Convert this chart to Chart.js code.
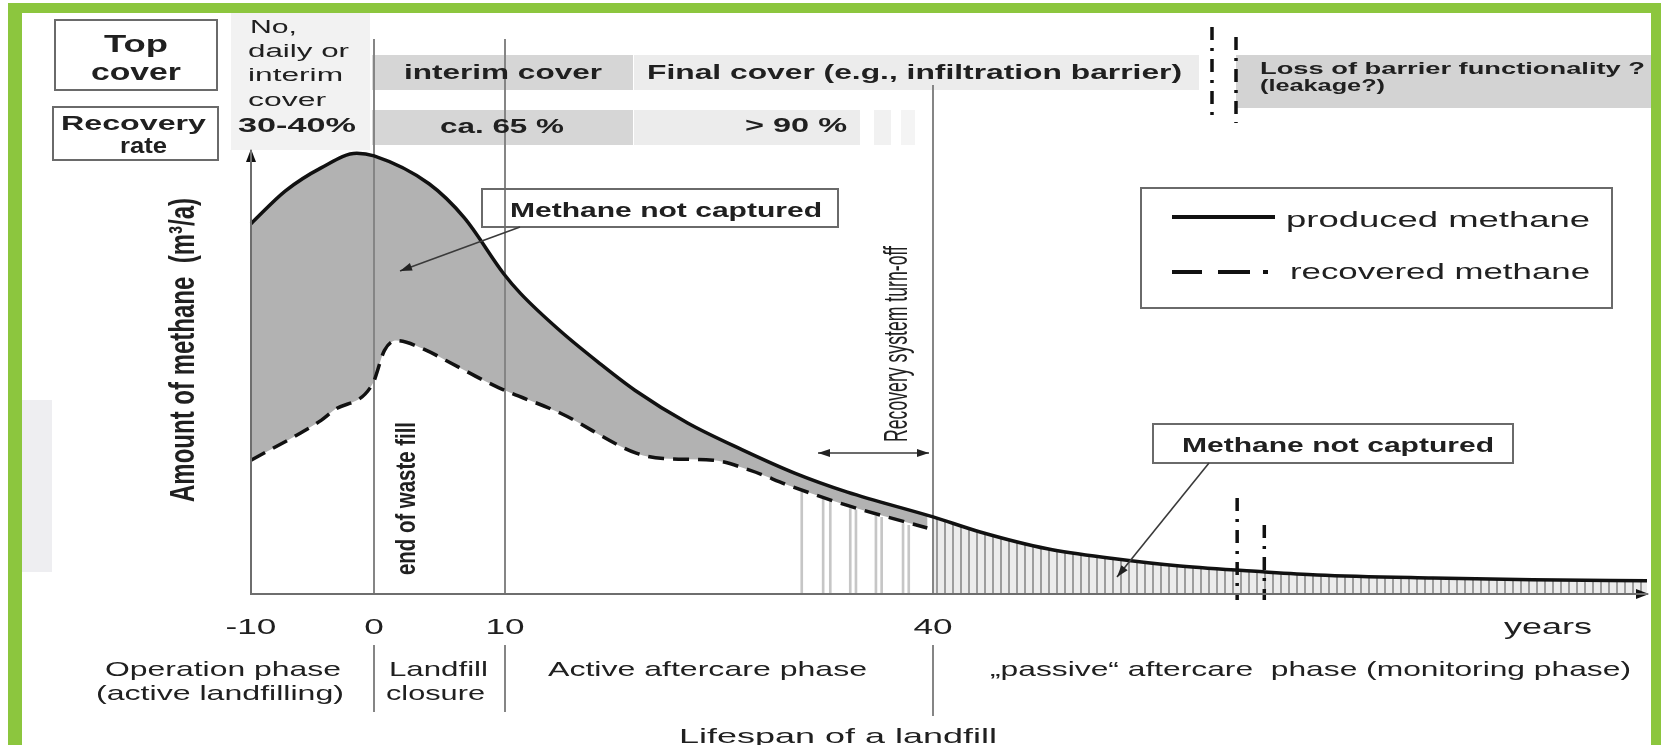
<!DOCTYPE html>
<html>
<head>
<meta charset="utf-8">
<title>Lifespan of a landfill</title>
<script src="https://cdn.jsdelivr.net/npm/chart.js@4.4.1/dist/chart.umd.min.js"></script>
<style>
  html, body { margin: 0; padding: 0; background: #fff; }
  #wrap { width: 1661px; height: 745px; position: relative; }
</style>
</head>
<body>
<div id="wrap"><canvas id="myChart"></canvas></div>
<script>
/* Data: years (relative to end of waste fill) / amount of methane (relative units) */
const producedYears  = [-10, -7.2, -4.3, -1.4, 0, 4.2, 6.9, 9.9, 11.1, 13.9, 16.5, 19.1, 22.8, 26.6, 30.3, 34, 40, 43.3, 48, 52.6, 57.3, 63.1, 66.9, 75, 82, 90];
const producedValues = [83.6, 91.0, 96.2, 99.5, 98.9, 92.6, 84.9, 72.3, 67.8, 59.3, 52.4, 46.0, 38.6, 32.6, 27.3, 23.0, 17.4, 14.0, 10.2, 8.0, 6.3, 5.0, 4.3, 3.6, 3.2, 3.0];

const recoveredYears  = [-10, -6, -4.3, -3.3, -0.1, 0.8, 1.7, 4, 5.5, 9.5, 13.9, 19.2, 21.1, 24.6, 27.2, 29.9, 34, 39.6];
const recoveredValues = [30.2, 36.3, 39.2, 41.4, 47.5, 55.0, 57.2, 55.0, 52.7, 46.6, 40.8, 31.8, 30.6, 30.2, 27.9, 24.5, 20.0, 14.9];

// partial recovery while the system is being turned off
const sparseYears  = [30.8, 32.3, 32.8, 34.2, 34.6, 36.0, 36.4, 37.9, 38.3];
const sparseValues = [23, 21.5, 21, 19.3, 19, 17.6, 17.3, 15.9, 15.5];

const tickYears  = [-10, 0, 10, 40];
const tickLabels = ['-10', '0', '10', '40'];
const phaseYears = [0, 10, 40];
const barrierYears = [61.3, 63.2];

/* Schematic time axis: not to scale, piecewise linear between phase marks */
class PhaseScale extends Chart.LinearScale {
  static id = 'phase';
  static defaults = {};
  static breaks = [[-10, 0], [0, 123 / 1396], [10, 254 / 1396], [40, 682 / 1396], [90, 1]];
  toDecimal(v) {
    const b = PhaseScale.breaks;
    let i = 0;
    while (i < b.length - 2 && v > b[i + 1][0]) i++;
    const [y0, d0] = b[i], [y1, d1] = b[i + 1];
    return d0 + (v - y0) / (y1 - y0) * (d1 - d0);
  }
  fromDecimal(d) {
    const b = PhaseScale.breaks;
    let i = 0;
    while (i < b.length - 2 && d > b[i + 1][1]) i++;
    const [y0, d0] = b[i], [y1, d1] = b[i + 1];
    return y0 + (d - d0) / (d1 - d0) * (y1 - y0);
  }
  getPixelForValue(value) {
    return value === null ? NaN : this.getPixelForDecimal(this.toDecimal(value));
  }
  getValueForPixel(pixel) {
    return this.fromDecimal(this.getDecimalForPixel(pixel));
  }
}
Chart.register(PhaseScale);

const FONT = '"Liberation Sans", Arial, sans-serif';
const INK = '#202020';

// text placed as [text, left, right, middle y, size, weight]
const texts = [
  ['Top', 104, 168, 43, 24, 'bold'],
  ['cover', 91, 181, 71, 24, 'bold'],
  ['Recovery', 61, 206, 122, 21, 'bold'],
  ['rate', 120, 167, 145, 22, 'bold'],
  ['No,', 250, 297, 27, 18, 'normal'],
  ['daily or', 248, 349, 51, 18, 'normal'],
  ['interim', 248, 343, 75, 18, 'normal'],
  ['cover', 248, 326, 100, 18, 'normal'],
  ['30-40%', 238, 356, 125, 20, 'bold'],
  ['interim cover', 404, 602, 72, 20, 'bold'],
  ['ca. 65 %', 440, 564, 126, 20, 'bold'],
  ['Final cover (e.g., infiltration barrier)', 647, 1182, 72, 20, 'bold'],
  ['> 90 %', 745, 847, 125, 20, 'bold'],
  ['Loss of barrier functionality ?', 1260, 1645, 68, 16, 'bold'],
  ['(leakage?)', 1260, 1385, 85, 16, 'bold'],
  ['produced methane', 1286, 1590, 219, 22, 'normal'],
  ['recovered methane', 1290, 1590, 271, 22, 'normal'],
  ['Methane not captured', 510, 822, 210, 20, 'bold'],
  ['Methane not captured', 1182, 1494, 445, 20, 'bold'],
  ['years', 1504, 1592, 626, 22, 'normal'],
  ['Operation phase', 105, 341, 668, 21, 'normal'],
  ['(active landfilling)', 96, 344, 692, 21, 'normal'],
  ['Landfill', 389, 488, 668, 21, 'normal'],
  ['closure', 386, 485, 692, 21, 'normal'],
  ['Active aftercare phase', 548, 867, 668, 21, 'normal'],
  ['\u201Epassive\u201C aftercare  phase (monitoring phase)', 990, 1631, 668, 21, 'normal'],
  ['Lifespan of a landfill', 679, 997, 735, 21, 'normal'],
];
// vertical text: [text, centre x, top, bottom, size, weight, thickness stretch]
const upTexts = [
  ['Amount of methane  (m\u00B3/a)', 181, 198, 502, 24, 'bold', 1.45],
  ['end of waste fill', 405, 422, 575, 20, 'bold', 1.4],
  ['Recovery system turn-off', 895, 246, 442, 18, 'normal', 1.85],
];
const bands = [
  [231, 13, 139, 137, '#f2f2f2'],
  [22, 400, 30, 172, '#eeeef1'],
  [372, 55, 261, 35, '#d6d6d6'],
  [634, 55, 565, 35, '#ececec'],
  [1236, 55, 415, 53, '#d3d3d3'],
  [372, 110, 261, 35, '#d6d6d6'],
  [634, 110, 226, 35, '#ececec'],
  [874, 110, 17, 35, '#f1f1f1'],
  [901, 110, 14, 35, '#f4f4f4'],
];
const boxes = [
  [55, 20, 162, 70], [53, 107, 165, 53],
  [482, 189, 356, 38], [1153, 424, 360, 39], [1141, 188, 471, 120],
];

function fitText(ctx, str, x0, x1, yMid, size, weight) {
  ctx.font = weight + ' ' + size + 'px ' + FONT;
  const w = ctx.measureText(str).width;
  ctx.save();
  ctx.translate(x0, yMid + size * 0.36);
  ctx.scale((x1 - x0) / w, 1);
  ctx.textAlign = 'left';
  ctx.textBaseline = 'alphabetic';
  ctx.fillText(str, 0, 0);
  ctx.restore();
}
function fitTextUp(ctx, str, cx, y0, y1, size, weight, thick) {
  ctx.font = weight + ' ' + size + 'px ' + FONT;
  const w = ctx.measureText(str).width;
  ctx.save();
  ctx.translate(cx, y1);
  ctx.rotate(-Math.PI / 2);
  ctx.scale((y1 - y0) / w, thick);
  ctx.textAlign = 'left';
  ctx.textBaseline = 'alphabetic';
  ctx.fillText(str, 0, size * 0.36);
  ctx.restore();
}
function head(ctx, x, y, ang, len, half) {
  ctx.save();
  ctx.translate(x, y);
  ctx.rotate(ang);
  ctx.beginPath();
  ctx.moveTo(0, 0);
  ctx.lineTo(-len, -half);
  ctx.lineTo(-len, half);
  ctx.closePath();
  ctx.fill();
  ctx.restore();
}
function arrow(ctx, x0, y0, x1, y1) {
  ctx.beginPath();
  ctx.moveTo(x0, y0);
  ctx.lineTo(x1, y1);
  ctx.stroke();
  head(ctx, x1, y1, Math.atan2(y1 - y0, x1 - x0), 12, 4);
}
function vline(ctx, x, y0, y1) {
  ctx.beginPath();
  ctx.moveTo(x, y0);
  ctx.lineTo(x, y1);
  ctx.stroke();
}

const schematic = {
  id: 'schematic',
  beforeDraw(chart) {
    const ctx = chart.ctx;
    ctx.save();
    ctx.fillStyle = '#ffffff';
    ctx.fillRect(0, 0, chart.width, chart.height);
    ctx.fillStyle = '#8cc63e';
    ctx.fillRect(8, 3, 14, 742);
    ctx.fillRect(8, 3, 1653, 10);
    ctx.fillRect(1651, 3, 10, 742);
    bands.forEach(([x, y, w, h, c]) => { ctx.fillStyle = c; ctx.fillRect(x, y, w, h); });
    ctx.restore();
  },
  beforeDatasetsDraw(chart) {
    const ctx = chart.ctx, xs = chart.scales.x, area = chart.chartArea;
    const tops = [39, 39, 85], bottoms = [712, 712, 716];
    ctx.save();
    ctx.strokeStyle = '#858585';
    ctx.lineWidth = 2;
    phaseYears.forEach((yr, i) => {
      const x = Math.round(xs.getPixelForValue(yr));
      vline(ctx, x, tops[i], area.bottom);
      vline(ctx, x, 645, bottoms[i]);
    });
    ctx.restore();
  },
  afterDatasetsDraw(chart) {
    const ctx = chart.ctx, xs = chart.scales.x, area = chart.chartArea;
    ctx.save();
    // dash-dot markers: loss of barrier functionality
    ctx.strokeStyle = '#111';
    ctx.lineWidth = 3.5;
    ctx.setLineDash([13, 8, 3, 8]);
    vline(ctx, 1212, 27, 115);
    vline(ctx, 1236, 37, 123);
    const tops = [498, 525];
    barrierYears.forEach((yr, i) => vline(ctx, xs.getPixelForValue(yr), tops[i], area.bottom + 6));
    ctx.setLineDash([]);
    // boxes
    ctx.strokeStyle = '#6a6a6a';
    ctx.lineWidth = 2;
    boxes.forEach(([x, y, w, h]) => ctx.strokeRect(x, y, w, h));
    // legend samples
    ctx.strokeStyle = '#111';
    ctx.lineWidth = 4;
    ctx.beginPath(); ctx.moveTo(1172, 217); ctx.lineTo(1275, 217); ctx.stroke();
    ctx.beginPath();
    ctx.moveTo(1172, 272); ctx.lineTo(1202, 272);
    ctx.moveTo(1218, 272); ctx.lineTo(1250, 272);
    ctx.moveTo(1263, 272); ctx.lineTo(1268, 272);
    ctx.stroke();
    // callout arrows
    ctx.strokeStyle = '#3a3a3a';
    ctx.fillStyle = '#222';
    ctx.lineWidth = 1.6;
    arrow(ctx, 520, 227, 400, 271);
    arrow(ctx, 1209, 463, 1117, 577);
    arrow(ctx, 873, 453, 818, 453);
    arrow(ctx, 873, 453, 929, 453);
    // axis arrow heads
    ctx.fillStyle = '#111';
    head(ctx, area.right + 2, area.bottom, 0, 13, 5);
    head(ctx, area.left, area.top - 2, -Math.PI / 2, 13, 5);
    ctx.restore();
  },
  afterDraw(chart) {
    const ctx = chart.ctx, xs = chart.scales.x;
    ctx.save();
    ctx.fillStyle = INK;
    texts.forEach(t => fitText(ctx, ...t));
    upTexts.forEach(t => fitTextUp(ctx, ...t));
    // tick labels of the time axis
    ctx.font = 'normal 22px ' + FONT;
    xs.ticks.forEach((tk, i) => {
      const x = xs.getPixelForTick(i);
      const w = ctx.measureText(tickLabels[i]).width * 1.6;
      fitText(ctx, tickLabels[i], x - w / 2, x + w / 2, 626, 22, 'normal');
    });
    ctx.restore();
  }
};

const canvas = document.getElementById('myChart');
const tile = document.createElement('canvas');
tile.width = 8; tile.height = 8;
const tc = tile.getContext('2d');
tc.fillStyle = '#ebebeb'; tc.fillRect(0, 0, 8, 8);
tc.fillStyle = '#9c9c9c'; tc.fillRect(0, 0, 2, 8);
const hatch = canvas.getContext('2d').createPattern(tile, 'repeat');

const pts = (xs, ys) => xs.map((x, i) => ({ x, y: ys[i] }));
const produced = pts(producedYears, producedValues);
const recovered = pts(recoveredYears, recoveredValues);

const data = {
  datasets: [
    {
      label: 'produced methane', data: produced,
      borderColor: '#111', borderWidth: 3.5, pointRadius: 0, fill: false,
      cubicInterpolationMode: 'monotone', clip: false,
    },
    {
      label: 'recovered methane', data: recovered,
      borderColor: '#111', borderWidth: 3.5, borderDash: [16, 9], pointRadius: 0, fill: false,
      cubicInterpolationMode: 'monotone', clip: false,
    },
    {
      label: 'Methane not captured', data: produced.filter(p => p.x <= 40),
      borderWidth: 0, borderColor: 'transparent', backgroundColor: '#b2b2b2',
      pointRadius: 0, fill: 1, cubicInterpolationMode: 'monotone',
    },
    {
      label: 'Methane not captured (passive)', data: produced.filter(p => p.x >= 40),
      borderWidth: 0, borderColor: 'transparent', backgroundColor: hatch,
      pointRadius: 0, fill: 'origin', cubicInterpolationMode: 'monotone',
    },
    {
      type: 'bar', label: 'partial recovery', data: pts(sparseYears, sparseValues),
      backgroundColor: '#c6c6c6', borderWidth: 0, barThickness: 2,
    },
  ],
};

const chartConfig = {
  type: 'line',
  data,
  options: {
    responsive: true,
    maintainAspectRatio: false,
    animation: false,
    events: [],
    layout: { padding: { left: 251, top: 151, right: 14, bottom: 151 } },
    plugins: {
      legend: { display: false },
      tooltip: { enabled: false },
      filler: { drawTime: 'beforeDatasetsDraw' },
    },
    scales: {
      x: {
        type: 'phase', min: -10, max: 90, offset: false,
        grid: { display: false, drawTicks: false, offset: false },
        border: { display: true, color: '#6e6e6e', width: 2, z: 1 },
        ticks: { display: false },
        afterBuildTicks: (s) => { s.ticks = tickYears.map(v => ({ value: v })); },
      },
      y: {
        type: 'linear', min: 0, max: 100,
        grid: { display: false, drawTicks: false },
        border: { display: true, color: '#6e6e6e', width: 2, z: 1 },
        ticks: { display: false },
      },
    },
  },
  plugins: [schematic],
};

const myChart = new Chart(canvas.getContext('2d'), chartConfig);
</script>
</body>
</html>
